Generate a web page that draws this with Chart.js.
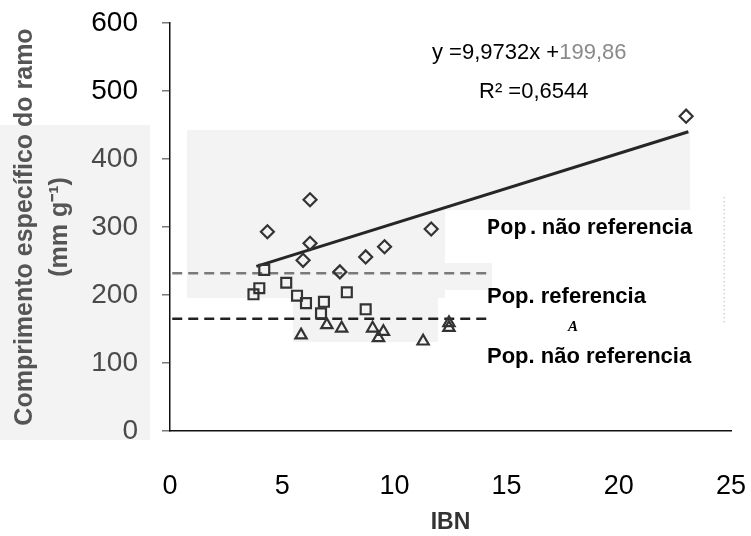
<!DOCTYPE html>
<html>
<head>
<meta charset="utf-8">
<script src="https://cdn.jsdelivr.net/npm/chart.js@4.4.1/dist/chart.umd.min.js"></script>
<style>
  html, body { margin: 0; padding: 0; background: #ffffff; }
  #wrap { width: 751px; height: 536px; }
</style>
</head>
<body>
<div id="wrap"><canvas id="scatter-chart" width="751" height="536"></canvas></div>
<script>
// values (x = IBN, y = mm g-1)
const diamondX = [4.34, 5.93, 6.24, 6.24, 7.57, 8.72, 9.56, 11.64, 23.0];
const diamondY = [293, 251, 276, 340, 234, 256, 271, 297, 463];
const squareX = [3.72, 3.98, 4.2, 5.18, 5.66, 6.06, 6.73, 6.86, 7.88, 8.72];
const squareY = [201, 210, 237, 218, 199, 188, 173, 190, 204, 179];
const triangleX = [5.84, 6.99, 7.65, 9.03, 9.29, 9.51, 11.28, 12.43, 12.43];
const triangleY = [141, 156, 151, 151, 137, 146, 132, 159, 152];
const trendX = [3.85, 23.1];
const trendY = [242, 440];
const refX = [0.1, 14.25];
const refUpperY = [232, 232];
const refLowerY = [165, 165];
const dotX = [24.7, 24.7];
const dotY = [160, 347];
const xTicks = [0, 5, 10, 15, 20, 25];
const yTicks = [0, 100, 200, 300, 400, 500, 600];

function pts(xs, ys) {
    return xs.map(function (x, i) { return { x: x, y: ys[i] }; });
}

const backdrop = {
    id: 'backdrop',
    beforeDraw: function (chart) {
        const ctx = chart.ctx;
        ctx.save();
        ctx.fillStyle = '#ffffff';
        ctx.fillRect(0, 0, chart.width, chart.height);
        ctx.fillStyle = '#f3f3f3';
        ctx.fillRect(0, 125, 150, 315);
        ctx.fillRect(187, 130, 503, 80);
        ctx.fillRect(187, 210, 258, 88);
        ctx.fillRect(293, 298, 145, 44);
        ctx.fillRect(445, 263, 47, 27);
        ctx.restore();
    }
};

const notes = {
    id: 'notes',
    afterDraw: function (chart) {
        const ctx = chart.ctx;
        ctx.save();
        ctx.textBaseline = 'middle';
        ctx.textAlign = 'left';
        ctx.font = '22px "Liberation Sans", Arial';
        ctx.fillStyle = '#000';
        ctx.fillText('y =9,9732x +', 432, 53);
        let w = ctx.measureText('y =9,9732x +').width;
        ctx.fillStyle = '#8a8a8a';
        ctx.fillText('199,86', 432 + w, 53);
        ctx.fillStyle = '#000';
        ctx.fillText('R\u00b2 =0,6544', 479, 92);

        ctx.font = 'bold 22px "Liberation Mono", monospace';
        ctx.fillText('Pop.', 487, 228);
        let p = ctx.measureText('Pop.').width;
        ctx.font = 'bold 22px "Liberation Sans", Arial';
        ctx.fillText('não referencia', 487 + p + 2, 228);
        ctx.fillText('Pop. referencia', 487, 297);
        ctx.fillText('Pop. não referencia', 487, 357);
        ctx.font = 'italic bold 15px "Liberation Serif", serif';
        ctx.fillText('A', 568, 327);
        ctx.restore();
    }
};

const markerStyle = {
    backgroundColor: 'rgba(0,0,0,0)',
    borderColor: '#333',
    borderWidth: 2.2,
    showLine: false
};

const ctx = document.getElementById('scatter-chart').getContext('2d');
const chart = new Chart(ctx, {
    type: 'scatter',
    data: {
        datasets: [
            Object.assign({ label: 'Pop. não referencia', data: pts(diamondX, diamondY), pointStyle: 'rectRot', pointRadius: 6.5 }, markerStyle),
            Object.assign({ label: 'Pop. referencia', data: pts(squareX, squareY), pointStyle: 'rect', pointRadius: 7 }, markerStyle),
            Object.assign({ label: 'Pop. não referencia (2)', data: pts(triangleX, triangleY), pointStyle: 'triangle', pointRadius: 6.5 }, markerStyle),
            {
                label: 'tendencia', data: pts(trendX, trendY), showLine: true,
                borderColor: '#262626', borderWidth: 3, pointRadius: 0
            },
            {
                label: 'media referencia', data: pts(refX, refUpperY), showLine: true,
                borderColor: '#7a7a7a', borderWidth: 2.5, borderDash: [10, 6], pointRadius: 0
            },
            {
                label: 'media não referencia', data: pts(refX, refLowerY), showLine: true,
                borderColor: '#222', borderWidth: 2.5, borderDash: [10, 6], pointRadius: 0
            },
            {
                label: 'borda', data: pts(dotX, dotY), showLine: true,
                borderColor: '#bdbdbd', borderWidth: 1.5, borderDash: [1, 3], pointRadius: 0
            }
        ]
    },
    options: {
        responsive: false,
        animation: false,
        layout: { padding: { top: 23, right: 20, bottom: 0, left: 0 } },
        plugins: {
            legend: { display: false },
            tooltip: { enabled: false }
        },
        scales: {
            x: {
                type: 'linear',
                min: 0,
                max: 25,
                afterBuildTicks: function (axis) {
                    axis.ticks = xTicks.map(function (v) { return { value: v }; });
                },
                afterFit: function (axis) {
                    axis.height = 105;
                    axis.paddingLeft = 0;
                    axis.paddingRight = 0;
                },
                grid: { display: false },
                border: { display: true, color: '#111', width: 1.5 },
                ticks: {
                    color: '#000',
                    padding: 31,
                    font: { family: '"Liberation Sans", Arial', size: 27 }
                },
                title: {
                    display: true,
                    text: 'IBN',
                    color: '#333',
                    padding: { top: 0, bottom: 0 },
                    font: { family: '"Liberation Sans", Arial', size: 23, weight: 'bold' }
                }
            },
            y: {
                type: 'linear',
                min: 0,
                max: 600,
                afterBuildTicks: function (axis) {
                    axis.ticks = yTicks.map(function (v) { return { value: v }; });
                },
                afterFit: function (axis) {
                    axis.width = 170;
                    axis.paddingTop = 0;
                    axis.paddingBottom = 0;
                },
                grid: { drawOnChartArea: false, drawTicks: true, tickLength: 8, color: '#777', lineWidth: 1.5 },
                border: { display: true, color: '#111', width: 1.5 },
                ticks: {
                    padding: 24,
                    color: function (c) { return c.tick.value >= 500 ? '#000' : '#4a4a4a'; },
                    font: { family: '"Liberation Sans", Arial', size: 28 }
                },
                title: {
                    display: true,
                    text: ['Comprimento específico do ramo', '(mm g\u207b\u00b9)'],
                    color: '#555',
                    padding: { top: 7.5, bottom: 0 },
                    font: { family: '"Liberation Sans", Arial', size: 25, weight: 'bold', lineHeight: 1.4 }
                }
            }
        }
    },
    plugins: [backdrop, notes]
});
</script>
</body>
</html>
